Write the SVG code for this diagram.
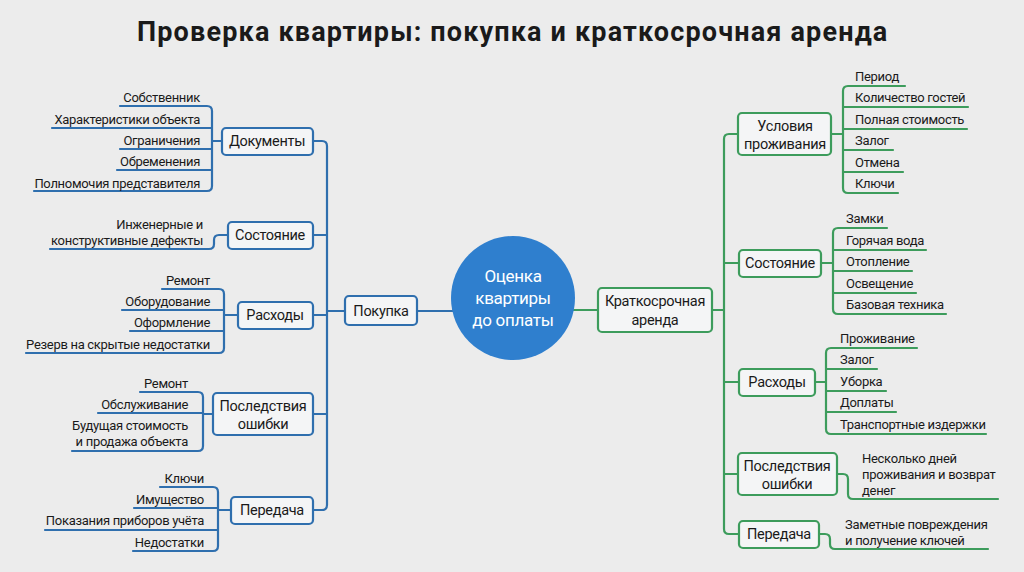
<svg xmlns="http://www.w3.org/2000/svg" width="1024" height="572" viewBox="0 0 1024 572">
<style>
text{font-family:Roboto,"Liberation Sans",sans-serif;fill:#1a1a1a;letter-spacing:-0.3px}
.t{font-size:27px;font-weight:bold;text-anchor:middle}
.n{font-size:14.5px;text-anchor:middle}
.l{font-size:13px;text-anchor:end}
.r{font-size:13px}
.b{fill:none;stroke:#2f6fae;stroke-width:2.2;stroke-linecap:round}
.g{fill:none;stroke:#3d9c5c;stroke-width:2.2;stroke-linecap:round}
.bb{fill:#f4f5f6;stroke:#2f6fae;stroke-width:2.2}
.gb{fill:#f4f5f6;stroke:#3d9c5c;stroke-width:2.2}
</style>
<rect width="1024" height="572" fill="#ececec"/>
<text class="t" x="512" y="41" textLength="750">Проверка квартиры: покупка и краткосрочная аренда</text>
<g id="connectors">
<path class="b" d="M417,311 H455 M327,311 H345 M313,141 H322 Q327,141 327,146 V505 Q327,510 322,510 H313 M313,235 H327 M313,315 H327 M313,414 H327"/>
<path class="b" d="M120,106 H207 Q212,106 212,111 V186 Q212,191 207,191 H34 M52,128 H212 M120,149 H212 M117,170 H212 M212,141 H222"/>
<path class="b" d="M50,249 H209 Q214,249 214,244 V240 Q214,235 219,235 H228"/>
<path class="b" d="M162,289 H219 Q224,289 224,294 V348 Q224,353 219,353 H26 M122,310 H224 M130,331 H224 M224,315 H238"/>
<path class="b" d="M140,392 H198 Q203,392 203,397 V446 Q203,451 198,451 H72 M98,413 H203 M203,414 H213"/>
<path class="b" d="M160,487 H213 Q218,487 218,492 V546 Q218,551 213,551 H133 M134,508 H218 M45,530 H218 M218,510 H231"/>
<path class="g" d="M572,310 H598 M712,310 H724 M737,134 H729 Q724,134 724,139 V529 Q724,534 729,534 H739 M724,263 H739 M724,382 H739 M724,474 H738"/>
<path class="g" d="M905,86 H848 Q843,86 843,91 V188 Q843,193 848,193 H898 M843,107 H968 M843,129 H967 M843,150 H893 M843,172 H903 M831,134 H843"/>
<path class="g" d="M887,228 H838 Q833,228 833,233 V309 Q833,314 838,314 H946 M833,250 H926 M833,271 H912 M833,293 H916 M821,263 H833"/>
<path class="g" d="M917,348 H831 Q826,348 826,353 V429 Q826,434 831,434 H986 M826,369 H877 M826,391 H886 M826,412 H896 M815,382 H826"/>
<path class="g" d="M837,474 H843 Q848,474 848,479 V494 Q848,499 853,499 H998"/>
<path class="g" d="M819,534 H825 Q830,534 830,539 V544 Q830,549 835,549 H988"/>
</g>
<g id="center"><circle cx="513" cy="298" r="62" fill="#2f7fce"/>
<text class="n" x="513" y="282" style="fill:#fff;font-size:17px">Оценка</text>
<text class="n" x="513" y="304" style="fill:#fff;font-size:17px">квартиры</text>
<text class="n" x="513" y="326" style="fill:#fff;font-size:17px">до оплаты</text></g>
<g id="pokupka"><rect class="bb" x="345" y="296" width="72" height="29" rx="4"/><text class="n" x="381" y="316">Покупка</text></g>
<g id="arenda"><rect class="gb" x="598" y="288" width="114" height="44" rx="4"/><text class="n" x="655" y="306">Краткосрочная</text><text class="n" x="655" y="325">аренда</text></g>
<g id="docs"><rect class="bb" x="222" y="128" width="91" height="27" rx="4"/><text class="n" x="267" y="146">Документы</text>
<text class="l" x="200" y="102">Собственник</text><text class="l" x="200" y="124">Характеристики объекта</text><text class="l" x="200" y="145">Ограничения</text><text class="l" x="200" y="166">Обременения</text><text class="l" x="200" y="188">Полномочия представителя</text></g>
<g id="sost-l"><rect class="bb" x="228" y="222" width="85" height="27" rx="4"/><text class="n" x="270" y="240">Состояние</text>
<text class="l" x="203" y="229">Инженерные и</text><text class="l" x="203" y="245">конструктивные дефекты</text></g>
<g id="rash-l"><rect class="bb" x="238" y="302" width="75" height="27" rx="4"/><text class="n" x="275" y="320">Расходы</text>
<text class="l" x="210" y="285">Ремонт</text><text class="l" x="210" y="306">Оборудование</text><text class="l" x="210" y="327">Оформление</text><text class="l" x="210" y="349">Резерв на скрытые недостатки</text></g>
<g id="posl-l"><rect class="bb" x="213" y="393" width="100" height="42" rx="4"/><text class="n" x="263" y="411">Последствия</text><text class="n" x="263" y="429">ошибки</text>
<text class="l" x="188" y="388">Ремонт</text><text class="l" x="188" y="409">Обслуживание</text><text class="l" x="188" y="430">Будущая стоимость</text><text class="l" x="188" y="446">и продажа объекта</text></g>
<g id="pered-l"><rect class="bb" x="231" y="497" width="82" height="27" rx="4"/><text class="n" x="272" y="515">Передача</text>
<text class="l" x="204" y="483">Ключи</text><text class="l" x="204" y="504">Имущество</text><text class="l" x="204" y="525">Показания приборов учёта</text><text class="l" x="204" y="547">Недостатки</text></g>
<g id="usl"><rect class="gb" x="738" y="113" width="93" height="42" rx="4"/><text class="n" x="785" y="131">Условия</text><text class="n" x="785" y="149">проживания</text>
<text class="r" x="855" y="81">Период</text><text class="r" x="855" y="102">Количество гостей</text><text class="r" x="855" y="124">Полная стоимость</text><text class="r" x="855" y="145">Залог</text><text class="r" x="855" y="167">Отмена</text><text class="r" x="855" y="188">Ключи</text></g>
<g id="sost-r"><rect class="gb" x="739" y="250" width="82" height="27" rx="4"/><text class="n" x="780" y="268">Состояние</text>
<text class="r" x="846" y="223">Замки</text><text class="r" x="846" y="245">Горячая вода</text><text class="r" x="846" y="266">Отопление</text><text class="r" x="846" y="288">Освещение</text><text class="r" x="846" y="309">Базовая техника</text></g>
<g id="rash-r"><rect class="gb" x="739" y="369" width="76" height="27" rx="4"/><text class="n" x="777" y="387">Расходы</text>
<text class="r" x="840" y="343">Проживание</text><text class="r" x="840" y="364">Залог</text><text class="r" x="840" y="386">Уборка</text><text class="r" x="840" y="407">Доплаты</text><text class="r" x="840" y="429">Транспортные издержки</text></g>
<g id="posl-r"><rect class="gb" x="738" y="453" width="99" height="42" rx="4"/><text class="n" x="787" y="471">Последствия</text><text class="n" x="787" y="489">ошибки</text>
<text class="r" x="862" y="463">Несколько дней</text><text class="r" x="862" y="479">проживания и возврат</text><text class="r" x="862" y="495">денег</text></g>
<g id="pered-r"><rect class="gb" x="739" y="521" width="80" height="27" rx="4"/><text class="n" x="779" y="539">Передача</text>
<text class="r" x="845" y="529">Заметные повреждения</text><text class="r" x="845" y="545">и получение ключей</text></g>
</svg>
